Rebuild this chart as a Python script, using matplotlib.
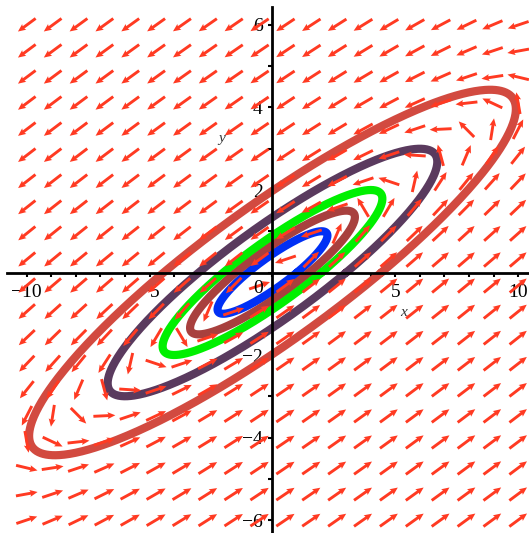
import numpy as np
import matplotlib
matplotlib.use("Agg")
import matplotlib.pyplot as plt

# Linear system  x' = a*x + b*y,  y' = c*x + d*y
sys_a, sys_b, sys_c, sys_d = 2.0, -5.0, 1.0, -2.0

# Direction-field grid (Maple DEplot, 20 x 20 arrows)
grid_x = np.linspace(-10, 10, 20)
grid_y = np.linspace(-6, 6, 20)

# Trajectories: initial points on the positive x axis (x0, 0)
traj_x0 = [1.0, 1.5, 2.0, 3.0, 4.43]
traj_colors = ["#0030F5", "#A8403E", "#00F000", "#5A3A5E", "#D24A40"]

x_tick_labels = [-10, -5, 5, 10]
y_tick_labels = [-6, -4, -2, 2, 4, 6]

W, H, DPI = 529, 533, 100
fig = plt.figure(figsize=(W / DPI, H / DPI), dpi=DPI)
ax = fig.add_axes([0, 0, 1, 1])
xlim = (-11.09, 10.44)
ylim = (-6.315, 6.606)
ax.set_xlim(*xlim)
ax.set_ylim(*ylim)
sx = W / (xlim[1] - xlim[0])
sy = H / (ylim[1] - ylim[0])

# trajectories (exact solution of the centre: X(t) = cos t X0 + sin t A X0)
t = np.linspace(0, 2 * np.pi, 600)
for x0, col in zip(traj_x0, traj_colors):
    y0 = 0.0
    ax0 = sys_a * x0 + sys_b * y0
    ay0 = sys_c * x0 + sys_d * y0
    xt = np.cos(t) * x0 + np.sin(t) * ax0
    yt = np.cos(t) * y0 + np.sin(t) * ay0
    ax.plot(xt, yt, color=col, lw=5.9, solid_capstyle="round", zorder=2)

# direction field, arrows of constant screen length
GX, GY = np.meshgrid(grid_x, grid_y)
U = sys_a * GX + sys_b * GY
V = sys_c * GX + sys_d * GY
Up, Vp = U * sx, V * sy
nrm = np.hypot(Up, Vp)
L = 22.0
ax.quiver(GX, GY, L * Up / nrm, L * Vp / nrm, angles="uv", units="dots",
          scale_units="dots", scale=1, pivot="middle", color="#FF3A22",
          width=2.9, headwidth=2.4, headlength=2.7, headaxislength=2.4,
          zorder=3)

# axes through the origin
for s in ["top", "right"]:
    ax.spines[s].set_visible(False)
ax.spines["left"].set_position(("data", 0))
ax.spines["bottom"].set_position(("data", 0))
ax.spines["left"].set_bounds(ylim[0], 6.44)
ax.spines["bottom"].set_bounds(-10.8, xlim[1])
for s in ["left", "bottom"]:
    ax.spines[s].set_linewidth(2.0)
    ax.spines[s].set_zorder(5)

ax.set_xticks(x_tick_labels)
ax.set_xticks(np.arange(-10, 11, 1), minor=True)
ax.set_yticks(y_tick_labels)
ax.set_yticks(np.arange(-6, 7, 1), minor=True)
ax.set_xticklabels([("\u2212%d" % -v) if v < 0 else str(v) for v in x_tick_labels])
ax.set_yticklabels([("\u2212%d" % -v) if v < 0 else str(v) for v in y_tick_labels])
ax.tick_params(which="both", direction="out", length=3.0, width=1.5, zorder=5)
ax.tick_params(axis="x", which="major", pad=5)
ax.tick_params(axis="y", which="major", pad=4)
for lab in ax.get_xticklabels() + ax.get_yticklabels():
    lab.set_fontfamily("Liberation Serif")
    lab.set_fontsize(14)

ax.text(-0.58, -0.38, "0", fontfamily="Liberation Serif", fontsize=14,
        ha="center", va="center", zorder=6)
ax.text(5.35, -0.97, "x", fontfamily="Liberation Serif", style="italic",
        fontsize=11, color="#333333", ha="center", va="center")
ax.text(-2.05, 3.24, "y", fontfamily="Liberation Serif", style="italic",
        fontsize=11, color="#333333", ha="center", va="center")

fig.savefig("out.png", dpi=DPI)
